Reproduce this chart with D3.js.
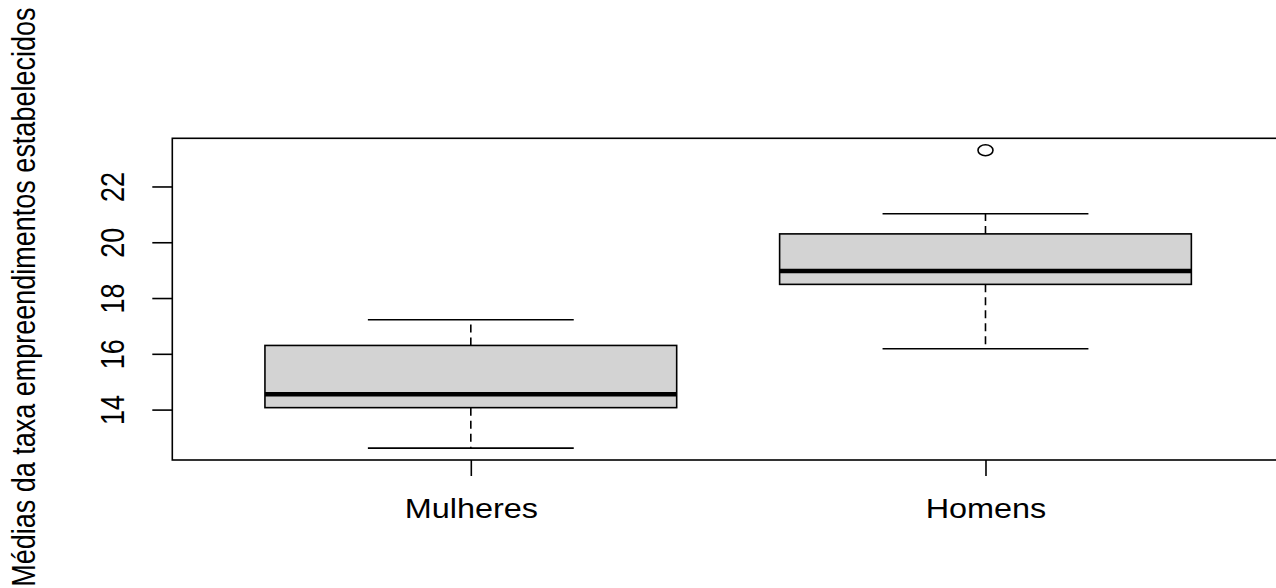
<!DOCTYPE html>
<html>
<head>
<meta charset="utf-8">
<script src="https://cdn.jsdelivr.net/npm/d3@7"></script>
<style>
  body { margin: 0; background: #fff; }
  svg text { font-family: "Liberation Sans", Arial, sans-serif; fill: #000; }
</style>
</head>
<body>
<div id="chart"></div>
<script>
// boxplot summary
const groups = ["Mulheres", "Homens"];
const lowerWhisker = [12.62, 16.18];
const q1 = [14.07, 18.49];
const median = [14.55, 18.97];
const q3 = [16.30, 20.30];
const upperWhisker = [17.22, 21.02];
const outliers = [[], [23.30]];
const yTicks = [14, 16, 18, 20, 22];
const yLabel = "Médias da taxa empreendimentos estabelecidos";

const width = 1276, height = 588;
const plot = {left: 172.3, right: 1284, top: 138.3, bottom: 460};
const fontSize = 27;
const stretch = 1.2; // the source image is wider than tall
const lw = 1.6;

let svg = d3.select("#chart").append("svg")
    .attr("width", width)
    .attr("height", height);

// R style ranges: 4% padding on each side
let allVals = lowerWhisker.concat(upperWhisker, outliers.flat());
let yMin = d3.min(allVals), yMax = d3.max(allVals);
let pad = (yMax - yMin) * 0.04;

let y = d3.scaleLinear()
    .domain([yMin - pad, yMax + pad])
    .range([plot.bottom, plot.top]);

let xPad = (groups.length) * 0.04;
let x = d3.scaleLinear()
    .domain([0.5 - xPad, groups.length + 0.5 + xPad])
    .range([plot.left, plot.right]);

let boxHalf = 0.4, capHalf = 0.2;

let data = groups.map((g, i) => ({
    name: g, pos: i + 1,
    lo: lowerWhisker[i], q1: q1[i], med: median[i], q3: q3[i], hi: upperWhisker[i],
    out: outliers[i]
}));

let boxes = svg.append("g").selectAll("g")
    .data(data)
    .enter().append("g");

// dashed whiskers
boxes.append("line")
    .attr("x1", d => x(d.pos)).attr("x2", d => x(d.pos))
    .attr("y1", d => y(d.q3)).attr("y2", d => y(d.hi))
    .attr("stroke", "#000").attr("stroke-width", lw)
    .attr("stroke-dasharray", "8,5");
boxes.append("line")
    .attr("x1", d => x(d.pos)).attr("x2", d => x(d.pos))
    .attr("y1", d => y(d.q1)).attr("y2", d => y(d.lo))
    .attr("stroke", "#000").attr("stroke-width", lw)
    .attr("stroke-dasharray", "8,5");

// staples
boxes.append("line")
    .attr("x1", d => x(d.pos - capHalf)).attr("x2", d => x(d.pos + capHalf))
    .attr("y1", d => y(d.hi)).attr("y2", d => y(d.hi))
    .attr("stroke", "#000").attr("stroke-width", lw);
boxes.append("line")
    .attr("x1", d => x(d.pos - capHalf)).attr("x2", d => x(d.pos + capHalf))
    .attr("y1", d => y(d.lo)).attr("y2", d => y(d.lo))
    .attr("stroke", "#000").attr("stroke-width", lw);

// the box
boxes.append("rect")
    .attr("x", d => x(d.pos - boxHalf))
    .attr("width", d => x(d.pos + boxHalf) - x(d.pos - boxHalf))
    .attr("y", d => y(d.q3))
    .attr("height", d => y(d.q1) - y(d.q3))
    .attr("fill", "#d3d3d3")
    .attr("stroke", "#000")
    .attr("stroke-width", lw);

// median
boxes.append("line")
    .attr("x1", d => x(d.pos - boxHalf)).attr("x2", d => x(d.pos + boxHalf))
    .attr("y1", d => y(d.med)).attr("y2", d => y(d.med))
    .attr("stroke", "#000").attr("stroke-width", 4.5);

// outliers
boxes.selectAll("ellipse")
    .data(d => d.out.map(v => ({pos: d.pos, v: v})))
    .enter().append("ellipse")
    .attr("cx", d => x(d.pos))
    .attr("cy", d => y(d.v))
    .attr("rx", 7.5).attr("ry", 5.5)
    .attr("fill", "none")
    .attr("stroke", "#000")
    .attr("stroke-width", lw);

// frame
svg.append("rect")
    .attr("x", plot.left).attr("y", plot.top)
    .attr("width", plot.right - plot.left)
    .attr("height", plot.bottom - plot.top)
    .attr("fill", "none")
    .attr("stroke", "#000")
    .attr("stroke-width", lw);

// y axis
let yAxis = svg.append("g")
    .attr("transform", `translate(${plot.left},0)`)
    .call(d3.axisLeft(y).tickValues(yTicks).tickSize(20).tickSizeOuter(0).tickFormat(d3.format("d")));
yAxis.select(".domain").remove();
yAxis.selectAll(".tick line").attr("stroke", "#000").attr("stroke-width", lw);
yAxis.selectAll(".tick text")
    .attr("x", null).attr("dy", null)
    .attr("text-anchor", "middle")
    .attr("font-size", fontSize)
    .attr("transform", `translate(-48,0) scale(${stretch},1) rotate(-90)`);

// x axis
let xAxis = svg.append("g")
    .attr("transform", `translate(0,${plot.bottom})`)
    .call(d3.axisBottom(x).tickValues(data.map(d => d.pos)).tickSize(16).tickSizeOuter(0)
        .tickFormat(d => groups[d - 1]));
xAxis.select(".domain").remove();
xAxis.selectAll(".tick line").attr("stroke", "#000").attr("stroke-width", lw);
xAxis.selectAll(".tick text")
    .attr("y", null).attr("dy", null)
    .attr("text-anchor", "middle")
    .attr("font-size", fontSize)
    .attr("transform", `translate(0,58) scale(${stretch},1)`);

// y label
svg.append("text")
    .attr("text-anchor", "middle")
    .attr("font-size", fontSize)
    .attr("transform", `translate(35,${(plot.top + plot.bottom) / 2 - 2}) scale(${stretch},1) rotate(-90)`)
    .text(yLabel);
</script>
</body>
</html>
